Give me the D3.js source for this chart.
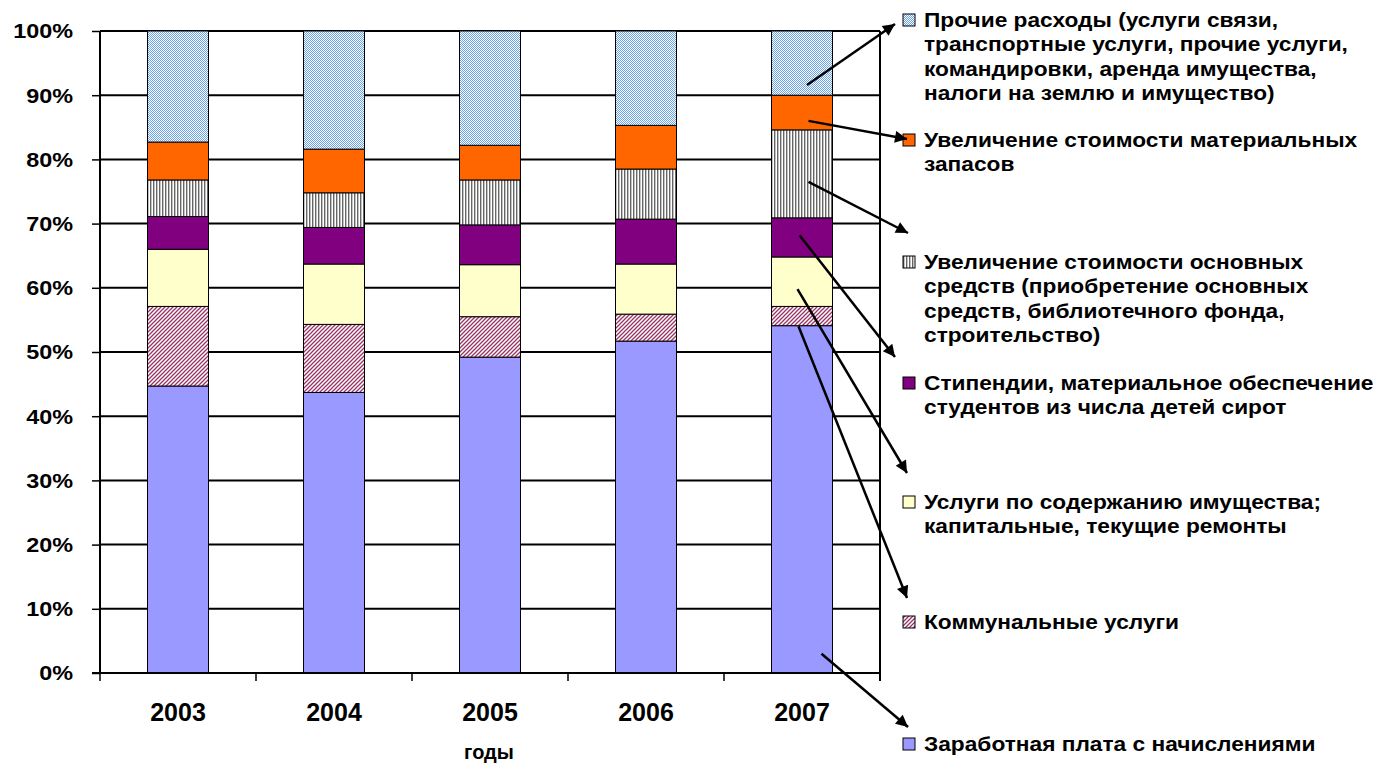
<!DOCTYPE html>
<html><head><meta charset="utf-8">
<script src="https://cdn.jsdelivr.net/npm/d3@7"></script>
<style>
body{margin:0;background:#fff;}
text{font-family:"Liberation Sans",Arial,sans-serif;font-weight:bold;fill:#000;}
</style></head>
<body><svg id="c" width="1377" height="766"></svg>
<script>
const years = ["2003","2004","2005","2006","2007"];
const keys = ["salary","communal","maintenance","stipend","fixed","material","other"];
const salary      = [44.7, 43.7, 49.2, 51.7, 54.1];
const communal    = [12.4, 10.6,  6.3,  4.2,  3.0];
const maintenance = [ 8.9,  9.4,  8.1,  7.8,  7.7];
const stipend     = [ 5.1,  5.7,  6.2,  7.0,  6.1];
const fixed       = [ 5.7,  5.4,  7.0,  7.8, 13.7];
const material    = [ 5.9,  6.8,  5.4,  6.8,  5.4];
const other       = [17.3, 18.4, 17.8, 14.7, 10.0];
const yTicks = [0,10,20,30,40,50,60,70,80,90,100];
const xTitle = "годы";
const legendLabels = {
  other: ["Прочие расходы (услуги связи,","транспортные услуги, прочие услуги,","командировки, аренда имущества,","налоги на землю и имущество)"],
  material: ["Увеличение стоимости материальных","запасов"],
  fixed: ["Увеличение стоимости основных","средств (приобретение основных","средств, библиотечного фонда,","строительство)"],
  stipend: ["Стипендии, материальное обеспечение","студентов из числа детей сирот"],
  maintenance: ["Услуги по содержанию имущества;","капитальные, текущие ремонты"],
  communal: ["Коммунальные услуги"],
  salary: ["Заработная плата с начислениями"]
};
const legendOrder = ["other","material","fixed","stipend","maintenance","communal","salary"];
// arrows: start inside 2007 bar at given value
const arrowStart = {other:91.6, material:86.0, fixed:76.5, stipend:68.2, maintenance:59.8, communal:54.0, salary:3.0};

const seriesData = {salary,communal,maintenance,stipend,fixed,material,other};
const rows = years.map((y,i)=>{const r={year:y}; keys.forEach(k=>r[k]=seriesData[k][i]); return r;});

const svg = d3.select("#c");
const L=100,R=880,T=31,B=673;
const x = d3.scaleBand().domain(years).range([L,R]).paddingInner(0.609).paddingOuter(0.3045);
const y = d3.scaleLinear().domain([0,100]).range([B,T]);

const defs = svg.append("defs");
// patterns
let p = defs.append("pattern").attr("id","p-other").attr("patternUnits","userSpaceOnUse").attr("width",2).attr("height",2);
p.append("rect").attr("width",2).attr("height",2).attr("fill","#fff");
p.append("rect").attr("width",1).attr("height",1).attr("fill","#6aa2ec");
p.append("rect").attr("x",1).attr("y",1).attr("width",1).attr("height",1).attr("fill","#6aa2ec");
p = defs.append("pattern").attr("id","p-fixed").attr("patternUnits","userSpaceOnUse").attr("width",3).attr("height",3);
p.append("rect").attr("width",3).attr("height",3).attr("fill","#fff");
p.append("rect").attr("width",1.4).attr("height",3).attr("fill","#666");
p = defs.append("pattern").attr("id","p-comm").attr("patternUnits","userSpaceOnUse").attr("width",4).attr("height",4);
p.append("rect").attr("width",4).attr("height",4).attr("fill","#fff");
p.append("path").attr("d","M-1,1L1,-1M0,4L4,0M3,5L5,3").attr("stroke","#993366").attr("stroke-width",1.3);

const fills = {salary:"#9999ff",communal:"url(#p-comm)",maintenance:"#ffffcc",stipend:"#800080",fixed:"url(#p-fixed)",material:"#ff6600",other:"url(#p-other)"};

// gridlines
svg.append("g").selectAll("line").data(yTicks).join("line")
  .attr("x1",L).attr("x2",R).attr("y1",d=>y(d)).attr("y2",d=>y(d))
  .attr("stroke","#000").attr("stroke-width",2);
// right border
svg.append("line").attr("x1",R).attr("x2",R).attr("y1",T).attr("y2",B+8).attr("stroke","#000").attr("stroke-width",2);

// bars
const stack = d3.stack().keys(keys)(rows);
svg.append("g").selectAll("g").data(stack).join("g")
  .attr("fill",d=>fills[d.key])
  .selectAll("rect").data(d=>d).join("rect")
  .attr("x",d=>x(d.data.year)).attr("width",x.bandwidth())
  .attr("y",d=>y(d[1])).attr("height",d=>y(d[0])-y(d[1]))
  .attr("stroke","#000").attr("stroke-width",1);

// y axis
const ya = svg.append("g").attr("transform",`translate(${L},0)`)
  .call(d3.axisLeft(y).tickValues(yTicks).tickFormat(d=>d+"%").tickSize(8).tickPadding(0));
ya.select(".domain").attr("stroke","#000").attr("stroke-width",2).attr("d",`M0,${T}V${B}`);
ya.selectAll(".tick line").attr("stroke","#000").attr("stroke-width",1.5);
ya.selectAll(".tick text").attr("x",-22.5).attr("font-size",19.5).attr("dy","0.35em")
  .attr("transform","scale(1.2,1)").attr("font-family","Liberation Sans").attr("font-weight","bold");

// x axis ticks at band boundaries
const bounds = years.map(d=>x(d)-x.step()*x.paddingOuter()).concat([R]);
svg.append("g").selectAll("line").data(bounds).join("line")
  .attr("x1",d=>d).attr("x2",d=>d).attr("y1",B).attr("y2",B+8).attr("stroke","#000").attr("stroke-width",1.5);
svg.append("line").attr("x1",L-8).attr("x2",R).attr("y1",B).attr("y2",B).attr("stroke","#000").attr("stroke-width",2);
svg.append("g").selectAll("text").data(years).join("text")
  .attr("x",d=>x(d)+x.bandwidth()/2).attr("y",B+48).attr("text-anchor","middle")
  .attr("font-size",25).text(d=>d);
svg.append("text").attr("x",489).attr("y",B+86).attr("text-anchor","middle").attr("font-size",20).text(xTitle);

// legend
const legY = {other:20,material:140,fixed:262,stipend:383,maintenance:502,communal:622,salary:744};
const lineH = 24.3;
const lg = svg.append("g");
const items = lg.selectAll("g").data(legendOrder).join("g").attr("transform",d=>`translate(903,${legY[d]})`);
items.append("rect").attr("x",0).attr("y",-6).attr("width",12).attr("height",12)
  .attr("fill",d=>fills[d]).attr("stroke","#000").attr("stroke-width",1);
const tx = items.append("g").attr("transform","translate(21,0) scale(1.136,1)");
tx.selectAll("text").data(d=>legendLabels[d]).join("text")
  .attr("x",0).attr("y",(d,i)=>i*lineH).attr("dy","0.36em").attr("font-size",20).text(d=>d);

// arrows
defs.append("marker").attr("id","ah").attr("viewBox","0 0 10 10").attr("refX",10).attr("refY",5)
  .attr("markerUnits","userSpaceOnUse").attr("markerWidth",15).attr("markerHeight",12).attr("orient","auto")
  .append("path").attr("d","M0,0L10,5L0,10Z").attr("fill","#000");
const cx = x("2007")+x.bandwidth()/2;
const startDx = {other:5,material:6.5,fixed:6.5,stipend:-2.5,maintenance:-4.5,communal:-3.5,salary:19.5};
const endOff = {other:[-8,4],material:[4,-1],fixed:[5,-29],stipend:[-8,-26],maintenance:[4,-29],communal:[4,-24],salary:[5,-17]};
svg.append("g").selectAll("line").data(legendOrder).join("line")
  .attr("x1",d=>cx+startDx[d]).attr("y1",d=>y(arrowStart[d]))
  .attr("x2",d=>903+endOff[d][0]).attr("y2",d=>legY[d]+endOff[d][1])
  .attr("stroke","#000").attr("stroke-width",2.5).attr("marker-end","url(#ah)");
</script></body></html>
